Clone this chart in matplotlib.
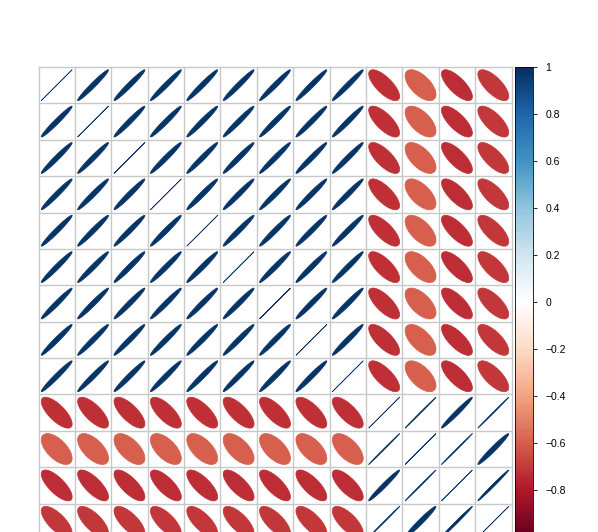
import numpy as np
import matplotlib
matplotlib.use("Agg")
import matplotlib.pyplot as plt
from matplotlib.colors import LinearSegmentedColormap, ListedColormap, Normalize
from matplotlib.cm import ScalarMappable

# correlations
corr_a = [
    [1.00, 0.975, 0.975, 0.975, 0.975, 0.975, 0.975, 0.975, 0.975],
    [0.975, 1.00, 0.975, 0.975, 0.975, 0.975, 0.975, 0.975, 0.975],
    [0.975, 0.975, 1.00, 0.975, 0.975, 0.975, 0.975, 0.975, 0.975],
    [0.975, 0.975, 0.975, 1.00, 0.975, 0.975, 0.975, 0.975, 0.975],
    [0.975, 0.975, 0.975, 0.975, 1.00, 0.975, 0.975, 0.975, 0.975],
    [0.975, 0.975, 0.975, 0.975, 0.975, 1.00, 0.975, 0.975, 0.975],
    [0.975, 0.975, 0.975, 0.975, 0.975, 0.975, 1.00, 0.975, 0.975],
    [0.975, 0.975, 0.975, 0.975, 0.975, 0.975, 0.975, 1.00, 0.975],
    [0.975, 0.975, 0.975, 0.975, 0.975, 0.975, 0.975, 0.975, 1.00],
]
corr_ab = [
    [-0.73, -0.60, -0.74, -0.71],
    [-0.73, -0.60, -0.74, -0.71],
    [-0.73, -0.60, -0.74, -0.71],
    [-0.73, -0.60, -0.74, -0.71],
    [-0.73, -0.60, -0.74, -0.71],
    [-0.73, -0.60, -0.74, -0.71],
    [-0.73, -0.60, -0.74, -0.71],
    [-0.73, -0.60, -0.74, -0.71],
    [-0.73, -0.60, -0.74, -0.71],
]
corr_b = [
    [1.000, 0.999, 0.980, 0.999],
    [0.999, 1.000, 0.999, 0.975],
    [0.980, 0.999, 1.000, 0.994],
    [0.999, 0.975, 0.994, 1.000],
]
cbar_ticks = [-0.8, -0.6, -0.4, -0.2, 0, 0.2, 0.4, 0.6, 0.8, 1]
cbar_labels = ["\u22120.8", "\u22120.6", "\u22120.4", "\u22120.2", "0",
               "0.2", "0.4", "0.6", "0.8", "1"]

A = np.array(corr_a)
AB = np.array(corr_ab)
B = np.array(corr_b)
corr = np.block([[A, AB], [AB.T, B]])
n = corr.shape[0]

rdbu = ["#67001F", "#B2182B", "#D6604D", "#F4A582", "#FDDBC7", "#FFFFFF",
        "#D1E5F0", "#92C5DE", "#4393C3", "#2166AC", "#053061"]
ramp = LinearSegmentedColormap.from_list("rdbu", rdbu)
cmap = ListedColormap(ramp(np.linspace(0, 1, 200)))
norm = Normalize(-1, 1)

fig = plt.figure(figsize=(5.98, 5.32), dpi=100)
plt.rcParams['font.family'] = ['Liberation Sans', 'DejaVu Sans']

ax = fig.add_axes([38.5 / 598, (532 - 540) / 532, 473 / 598, 473 / 532])
ax.set_xlim(0.5, n + 0.5)
ax.set_ylim(0.5, n + 0.5)
ax.axis('off')

k = np.linspace(0, 2 * np.pi, 100)
for i in range(n):
    for j in range(n):
        r = corr[i, j]
        d = np.arccos(np.clip(r, -1, 1))
        x = 0.425 * np.cos(k + d / 2) + (j + 1)
        y = 0.425 * np.cos(k - d / 2) + (n - i)
        c = cmap(norm(r))
        ax.fill(x, y, facecolor=c, edgecolor=c, lw=0.5)

for p in np.arange(0.5, n + 1, 1):
    ax.plot([p, p], [0.5, n + 0.5], color="#C8C8C8", lw=1.0, clip_on=False)
    ax.plot([0.5, n + 0.5], [p, p], color="#C8C8C8", lw=1.0, clip_on=False)

cax = fig.add_axes([515 / 598, (532 - 537) / 532, 18 / 598, 470 / 532])
cb = fig.colorbar(ScalarMappable(norm=norm, cmap=cmap), cax=cax)
cb.set_ticks(cbar_ticks)
cb.set_ticklabels(cbar_labels)
cb.outline.set_linewidth(0.6)
cax.tick_params(length=3, width=0.6, pad=6, labelsize=7.5)

fig.savefig("out.png", dpi=100)
